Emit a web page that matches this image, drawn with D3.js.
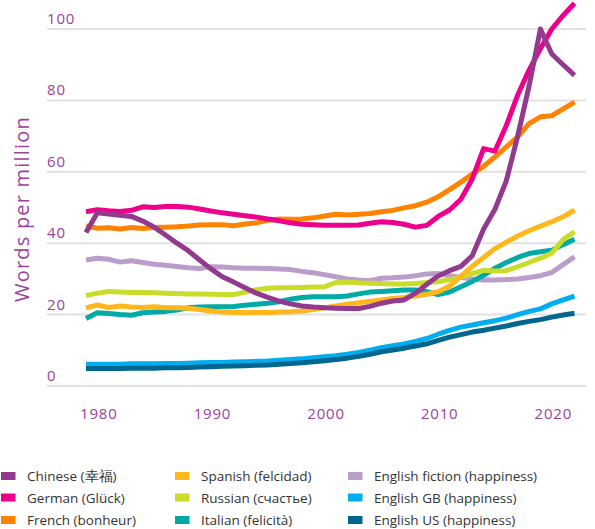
<!DOCTYPE html>
<html>
<head>
<meta charset="utf-8">
<script src="https://cdn.jsdelivr.net/npm/d3@7"></script>
<style>
  body { margin: 0; background: #fff; }
  svg { display: block; font-family: "Open Sans", sans-serif; }
</style>
</head>
<body>
<div id="chart"></div>
<script>
// years 1979 - 2022, words per million
var years = d3.range(1979, 2023);
var yTicks = [0, 20, 40, 60, 80, 100];
var xTicks = [1980, 1990, 2000, 2010, 2020];

var names = ["Chinese (幸福)", "German (Glück)", "French (bonheur)",
  "Spanish (felcidad)", "Russian (счастье)", "Italian (felicità)",
  "English fiction (happiness)", "English GB (happiness)", "English US (happiness)"];
var colors = ["#923a8e", "#ec008c", "#ff8200", "#ffb71b", "#c9dc2c", "#00aaa5",
  "#bb9dcc", "#00aeef", "#00668f"];

var chinese = [43, 48.5, 48.2, 47.8, 47.5, 46.2, 44.5, 42.3, 40, 37.9, 35.3, 32.8, 30.6, 29.1, 27.5,
  26, 24.8, 23.8, 23, 22.4, 22.1, 21.9, 21.8, 21.7, 21.7, 22.3, 23.2, 23.8, 24.1, 26, 28.5,
  30.8, 32.3, 33.5, 36.5, 44, 49.5, 57.5, 70, 84, 100, 93, 90, 87];
var german = [48.8, 49.4, 49.1, 48.9, 49.2, 50.2, 50, 50.3, 50.3, 50.1, 49.6, 49, 48.5, 48.1, 47.7,
  47.3, 46.8, 46.3, 45.7, 45.3, 45.2, 45, 45, 45, 45.1, 45.6, 46, 45.8, 45.3, 44.5, 45,
  47.5, 49.3, 52.3, 58, 66.5, 65.8, 73, 81.5, 88.5, 94.5, 100, 103.8, 107.2];
var french = [44.8, 44.2, 44.3, 44, 44.4, 44.1, 44.4, 44.5, 44.6, 44.8, 45.1, 45.2, 45.2, 44.9, 45.4,
  45.7, 46.4, 46.8, 46.7, 46.8, 47.1, 47.6, 48.1, 47.9, 48.1, 48.3, 48.8, 49.2, 49.9, 50.5, 51.5,
  53, 55, 57.1, 59.4, 61.5, 64.2, 67, 69.8, 73.5, 75.4, 75.7, 77.6, 79.5];
var spanish = [21.9, 22.7, 22, 22.4, 22.1, 22, 22.2, 21.9, 21.9, 21.8, 21.4, 21, 20.7, 20.6, 20.6,
  20.6, 20.6, 20.7, 20.8, 21, 21.4, 21.9, 22.4, 22.9, 23.3, 23.7, 24.1, 24.5, 24.8, 25.2, 25.7,
  26.4, 28, 30.8, 33.5, 36, 38.5, 40.3, 42, 43.5, 44.8, 46, 47.4, 49.3];
var russian = [25.3, 26, 26.5, 26.3, 26.2, 26.2, 26.1, 26, 25.9, 25.8, 25.8, 25.7, 25.6, 25.6, 26.3,
  27, 27.4, 27.5, 27.5, 27.6, 27.7, 27.8, 29, 29.1, 28.9, 28.8, 28.7, 28.6, 28.6, 28.7, 29,
  29.2, 29.8, 30.5, 31.5, 32.4, 32.2, 32.3, 33.4, 34.6, 35.8, 37.2, 41, 43.2];
var italian = [18.9, 20.5, 20.3, 20, 19.8, 20.5, 20.7, 20.9, 21.3, 21.9, 22.1, 22.2, 22.2, 22.3, 22.6,
  22.9, 23.2, 23.6, 24.3, 24.8, 25, 25, 25, 25.2, 25.8, 26.3, 26.5, 26.7, 26.9, 26.9, 26.4,
  25.6, 26.3, 27.8, 29.3, 31, 33, 34.6, 36, 37.1, 37.6, 38, 39.6, 41.1];
var fiction = [35.3, 35.8, 35.5, 34.7, 35.1, 34.6, 34.1, 33.8, 33.5, 33.1, 32.9, 33.4, 33.3, 33.1, 33,
  33, 32.9, 32.8, 32.6, 32.1, 31.7, 31.2, 30.6, 30, 29.7, 29.5, 30.2, 30.3, 30.5, 30.9, 31.4,
  31.5, 30.9, 30.4, 30, 29.7, 29.7, 29.8, 30, 30.4, 30.9, 31.8, 34, 36.2];
var englishGB = [6.1, 6.1, 6.1, 6.1, 6.2, 6.2, 6.2, 6.3, 6.3, 6.4, 6.5, 6.6, 6.6, 6.7, 6.8,
  6.9, 7, 7.2, 7.4, 7.6, 7.9, 8.2, 8.5, 8.9, 9.4, 10, 10.7, 11.3, 11.8, 12.5, 13.3,
  14.5, 15.6, 16.5, 17.1, 17.7, 18.3, 19, 20, 20.9, 21.6, 23, 24.1, 25.2];
var englishUS = [4.9, 4.9, 4.9, 4.9, 5, 5, 5, 5.1, 5.1, 5.2, 5.3, 5.4, 5.5, 5.6, 5.7,
  5.8, 5.9, 6.1, 6.3, 6.5, 6.8, 7.1, 7.4, 7.8, 8.3, 8.9, 9.6, 10.1, 10.6, 11.2, 11.8,
  12.8, 13.7, 14.4, 15.1, 15.6, 16.2, 16.8, 17.5, 18.1, 18.6, 19.3, 19.9, 20.4];

var seriesValues = [chinese, german, french, spanish, russian, italian, fiction, englishGB, englishUS];

var width = 595, height = 529,
  purple = "#9b429a";

var series = names.map(function(n, i) {
  return { name: n, color: colors[i], values: seriesValues[i] };
});

var svg = d3.select("#chart").append("svg")
  .attr("width", width)
  .attr("height", height);

var x = d3.scaleLinear().domain([1979, 2022]).range([86, 574.5]);
var y = d3.scaleLinear().domain([0, 100]).range([386, 29]);

// gridlines + y labels
var grid = svg.append("g");
grid.selectAll("line")
  .data(yTicks)
  .enter().append("line")
  .attr("x1", 47).attr("x2", 586)
  .attr("y1", d => y(d)).attr("y2", d => y(d))
  .attr("stroke", "#e1e1e1")
  .attr("stroke-width", 2);
grid.selectAll("text")
  .data(yTicks)
  .enter().append("text")
  .attr("x", 47)
  .attr("y", d => y(d) - 5)
  .attr("fill", purple)
  .style("font-size", "15px")
  .style("letter-spacing", "0.8px")
  .text(d => d);

// x labels
svg.append("g").selectAll("text")
  .data(xTicks)
  .enter().append("text")
  .attr("x", d => x(d) + 1.5)
  .attr("y", 419)
  .attr("text-anchor", "middle")
  .attr("fill", purple)
  .style("font-size", "15px")
  .style("letter-spacing", "0.8px")
  .text(d => d);

svg.append("text")
  .attr("transform", "translate(21,209)rotate(-90)")
  .attr("text-anchor", "middle")
  .attr("dominant-baseline", "central")
  .attr("fill", purple)
  .style("font-size", "20px")
  .style("letter-spacing", "1.2px")
  .text("Words per million");

var line = d3.line()
  .x((d, i) => x(years[i]))
  .y(d => y(d));

// draw chinese last so it sits on top
var order = [6, 7, 8, 5, 4, 3, 2, 1, 0];
svg.append("g").selectAll("path")
  .data(order.map(i => series[i]))
  .enter().append("path")
  .attr("d", d => line(d.values))
  .attr("fill", "none")
  .attr("stroke", d => d.color)
  .attr("stroke-width", 5)
  .attr("stroke-linejoin", "round");

// legend, 3 columns
var colX = [1, 175, 348], rowY = [476.5, 498, 520.5];
var leg = svg.append("g").selectAll("g")
  .data(series)
  .enter().append("g")
  .attr("transform", (d, i) => "translate(" + colX[Math.floor(i / 3)] + "," + rowY[i % 3] + ")");
leg.append("rect")
  .attr("x", 0).attr("y", -4.5)
  .attr("width", 14.5).attr("height", 8)
  .attr("fill", d => d.color);
leg.append("text")
  .attr("x", 26)
  .attr("dy", "0.35em")
  .attr("fill", "#333")
  .style("font-size", "13.5px")
  .text(d => d.name);
</script>
</body>
</html>
